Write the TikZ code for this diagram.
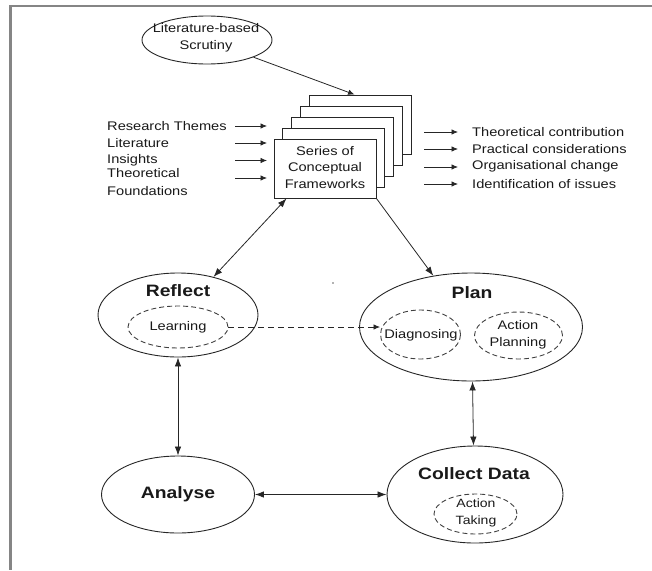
\documentclass[tikz,border=0pt]{standalone}
\usepackage{fontspec}
\setmainfont[FakeStretch=1.17]{Liberation Sans}
\usetikzlibrary{shapes.geometric,arrows.meta,calc}
\begin{document}
\begin{tikzpicture}[x=1pt,y=-1pt,
  txt/.style={font=\fontsize{12.5}{16.5}\selectfont, inner sep=0pt, align=center, text=black!90},
  big/.style={font=\fontsize{16.5}{19}\selectfont\bfseries, inner sep=0pt, text=black!90},
  oval/.style={draw=black!85, line width=0.9pt, ellipse, inner sep=0pt},
  dov/.style={draw=black!75, line width=0.9pt, ellipse, inner sep=0pt, dash pattern=on 5pt off 3pt},
  card/.style={draw=black!85, fill=white, line width=0.9pt, minimum width=102pt, minimum height=59pt, inner sep=0pt},
  lcon/.style={line width=0.8pt, draw=black!85, -{Latex[length=6.5pt,width=5.5pt]}},
  con/.style={line width=0.8pt, draw=black!85, -{Latex[length=9pt,width=6.5pt]}},
  bicon/.style={con, {Latex[length=9pt,width=6.5pt]}-{Latex[length=9pt,width=6.5pt]}},
]
\useasboundingbox (0,0) rectangle (652,570);
% frame
\draw[draw=black!48, line width=2.5pt] (652,6) -- (10.5,6) -- (10.5,570);

% scrutiny
\node[oval, minimum width=130pt, minimum height=48pt] (scr) at (207,40) {};
\node[txt] (scrt) at (206,38) {Literature-based\\Scrutiny};

% stacked frameworks
\node[card] (b5) at (360,124.5) {};
\node[card] (b4) at (351.25,135.5) {};
\node[card] (b3) at (342.5,146.5) {};
\node[card] (b2) at (333.75,157.5) {};
\node[card] (fw) at (325,168.5) {};
\node[txt] (fwt) at (325,167.5) {Series of\\Conceptual\\Frameworks};

% left inputs
\node[txt, anchor=west] (in1) at (107,126) {Research Themes};
\node[txt, anchor=west] (in2) at (107,143) {Literature};
\node[txt, anchor=west] (in3) at (107,160) {Insights};
\node[txt, anchor=west, align=left, font=\fontsize{12.5}{18}\selectfont] (in4) at (107,182) {Theoretical\\Foundations};
\coordinate (l1s) at (235,126); \coordinate (l1e) at (267,126);
\coordinate (l2s) at (235,143); \coordinate (l2e) at (267,143);
\coordinate (l3s) at (235,160.5); \coordinate (l3e) at (267,160.5);
\coordinate (l4s) at (235,178); \coordinate (l4e) at (267,178);

% right outputs
\coordinate (r1s) at (424,132); \coordinate (r1e) at (458,132);
\coordinate (r2s) at (424,149); \coordinate (r2e) at (458,149);
\coordinate (r3s) at (424,167); \coordinate (r3e) at (458,167);
\coordinate (r4s) at (424,184); \coordinate (r4e) at (458,184);
\node[txt, anchor=west] (o1) at (472,132) {Theoretical contribution};
\node[txt, anchor=west] (o2) at (472,149) {Practical considerations};
\node[txt, anchor=west] (o3) at (472,166.5) {Organisational change};
\node[txt, anchor=west] (o4) at (472,184) {Identification of issues};

% cycle
\node[oval, minimum width=160pt, minimum height=84pt] (refl) at (178,315) {};
\node[big] (reflt) at (178,291) {Reflect};
\node[dov, minimum width=100pt, minimum height=42pt] (learn) at (178,327) {};
\node[txt] (learnt) at (178,327) {Learning};

\node[oval, minimum width=223pt, minimum height=108pt] (plan) at (471,327) {};
\node[big] (plant) at (472,293) {Plan};
\node[dov, minimum width=80pt, minimum height=49pt] (diag) at (420.5,334.5) {};
\node[txt] (diagt) at (421,335) {Diagnosing};
\node[dov, minimum width=88pt, minimum height=47pt] (ap) at (518.5,335.5) {};
\node[txt] (apt) at (518,335) {Action\\Planning};

\node[oval, minimum width=153pt, minimum height=77pt] (an) at (178,494.5) {};
\node[big] (ant) at (178,494) {Analyse};

\node[oval, minimum width=176pt, minimum height=97pt] (cd) at (475,494.5) {};
\node[big] (cdt) at (474,474) {Collect Data};
\node[dov, minimum width=83pt, minimum height=40pt] (at) at (475.5,514) {};
\node[txt, font=\fontsize{12}{17}\selectfont] (att) at (476,513) {Action\\Taking};

% connectors
\draw[lcon] (scr) -- ($(b5.north west)+(46,0)$);
\foreach \i in {1,2,3,4} {\draw[lcon] (l\i s) -- (l\i e); \draw[lcon] (r\i s) -- (r\i e);}
\draw[bicon] ([xshift=13pt]fw.south west) -- (refl);
\draw[con] (fw.south east) -- (plan);
\draw[lcon, dash pattern=on 6pt off 4pt] (learn.east) -- (learn.east -| diag.west);
\draw[bicon] (refl) -- (an);
\draw[bicon] ([xshift=1.5pt]plan.south) -- ([xshift=-1.5pt]cd.north);
\draw[bicon] (an) -- (cd);

% small stray mark
\fill[black!60] (333,283) circle (0.8pt);
\end{tikzpicture}
\end{document}
